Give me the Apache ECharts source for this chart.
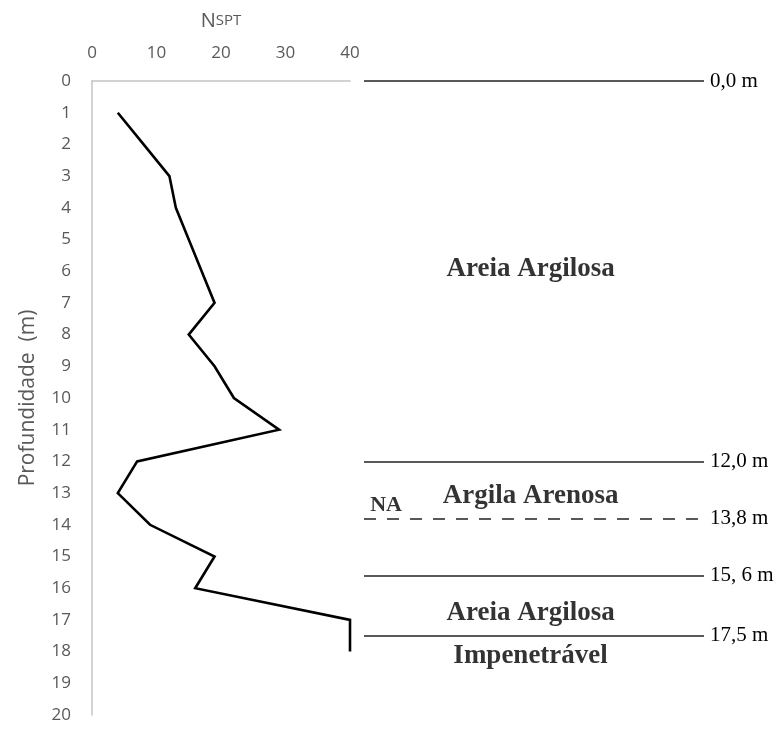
<!DOCTYPE html>
<html>
<head>
<meta charset="utf-8">
<style>
  html, body { margin: 0; padding: 0; background: #fff; }
  #chart { width: 776px; height: 729px; }
</style>
<script src="https://cdn.jsdelivr.net/npm/echarts@6/dist/echarts.min.js"></script>
</head>
<body>
<div id="chart"></div>
<script>
// SPT profile: blow count per metre of depth
const depths = [1, 2, 3, 4, 5, 6, 7, 8, 9, 10, 11, 12, 13, 14, 15, 16, 17, 18];
const nspt   = [4, 8, 12, 13, 15, 17, 19, 15, 19, 22, 29, 7, 4, 9, 19, 16, 40, 40];

// Axis ticks
const nsptTicks  = [0, 10, 20, 30, 40];
const depthTicks = [0, 1, 2, 3, 4, 5, 6, 7, 8, 9, 10, 11, 12, 13, 14, 15, 16, 17, 18, 19, 20];

// Stratigraphy: layer boundaries and their labels
const boundaryDepths = [0, 12, 15.6, 17.5];
const boundaryLabels = ['0,0 m', '12,0 m', '15, 6 m', '17,5 m'];
// Water table (NA)
const waterLevel = 13.8;
const waterLabel = '13,8 m';
const waterTag = 'NA';
const waterTagDepth = 13.4;

// Soil layer names and the depth where each name is written
const layerNames = ['Areia Argilosa', 'Argila Arenosa', 'Areia Argilosa', 'Impenetrável'];
const layerLabelDepths = [5.92, 13.08, 16.78, 18.15];

const axisGray = '#595959';
const serif = '"Liberation Serif", "DejaVu Serif", serif';
const sans = '"Open Sans", "Noto Sans", sans-serif';

const chart = echarts.init(document.getElementById('chart'), null, { renderer: 'canvas' });

const depthMin = depthTicks[0];
const depthMax = depthTicks[depthTicks.length - 1];

const option = {
  animation: false,
  backgroundColor: '#fff',
  grid: [
    { left: 92, top: 81, width: 258, height: 634 },
    { left: 364, top: 81, width: 340, height: 634 }
  ],
  xAxis: [
    {
      gridIndex: 0,
      type: 'value',
      position: 'top',
      min: nsptTicks[0],
      max: nsptTicks[nsptTicks.length - 1],
      interval: nsptTicks[1] - nsptTicks[0],
      name: '{n|N}{s|SPT}',
      nameLocation: 'middle',
      nameGap: 50,
      nameTextStyle: {
        rich: {
          n: { fontFamily: sans, fontSize: 20, color: axisGray },
          s: { fontFamily: sans, fontSize: 15, color: axisGray }
        }
      },
      axisLine: { show: true, lineStyle: { color: '#c4c4c4', width: 1.5 } },
      axisTick: { show: false },
      splitLine: { show: false },
      axisLabel: { color: axisGray, fontFamily: sans, fontSize: 17, margin: 19 }
    },
    {
      gridIndex: 1,
      type: 'value',
      min: 0,
      max: 1,
      show: false
    }
  ],
  yAxis: [
    {
      gridIndex: 0,
      type: 'value',
      inverse: true,
      min: depthMin,
      max: depthMax,
      interval: 1,
      name: 'Profundidade  (m)',
      nameLocation: 'middle',
      nameGap: 53,
      nameRotate: 90,
      nameTextStyle: { color: axisGray, fontFamily: sans, fontSize: 21 },
      axisLine: { show: true, lineStyle: { color: '#c4c4c4', width: 1.5 } },
      axisTick: { show: false },
      splitLine: { show: false },
      axisLabel: { color: axisGray, fontFamily: sans, fontSize: 17, margin: 21 }
    },
    {
      gridIndex: 1,
      type: 'value',
      inverse: true,
      min: depthMin,
      max: depthMax,
      show: false
    }
  ],
  series: [
    {
      type: 'line',
      xAxisIndex: 0,
      yAxisIndex: 0,
      data: depths.map((d, i) => [nspt[i], d]),
      showSymbol: false,
      symbol: 'none',
      lineStyle: { color: '#000', width: 2.6, join: 'miter' },
      silent: true
    },
    {
      // layer boundaries and the water table
      type: 'line',
      xAxisIndex: 1,
      yAxisIndex: 1,
      data: [],
      silent: true,
      markLine: {
        silent: true,
        symbol: 'none',
        animation: false,
        label: {
          show: true,
          position: 'end',
          distance: 6,
          color: '#000',
          fontFamily: serif,
          fontSize: 21
        },
        data: boundaryDepths.map((d, i) => ({
          yAxis: d,
          label: { formatter: boundaryLabels[i], color: '#000' },
          lineStyle: { color: '#222', width: 1.6, type: 'solid' }
        })).concat([{
          yAxis: waterLevel,
          label: { formatter: waterLabel, color: '#000' },
          lineStyle: { color: '#222', width: 1.6, type: [12, 11] }
        }])
      }
    },
    {
      // soil layer names
      type: 'scatter',
      xAxisIndex: 1,
      yAxisIndex: 1,
      symbolSize: 0,
      silent: true,
      data: layerLabelDepths.map((d, i) => ({ value: [0.49, d], name: layerNames[i] })),
      label: {
        show: true,
        position: 'inside',
        formatter: p => p.name,
        color: '#000',
        fontFamily: serif,
        fontWeight: 'bold',
        fontSize: 27
      }
    },
    {
      // water table tag
      type: 'scatter',
      xAxisIndex: 1,
      yAxisIndex: 1,
      symbolSize: 0,
      silent: true,
      data: [{ value: [0.065, waterTagDepth], name: waterTag }],
      label: {
        show: true,
        position: 'inside',
        formatter: p => p.name,
        color: '#000',
        fontFamily: serif,
        fontWeight: 'bold',
        fontSize: 22
      }
    }
  ]
};

chart.setOption(option);
</script>
</body>
</html>
